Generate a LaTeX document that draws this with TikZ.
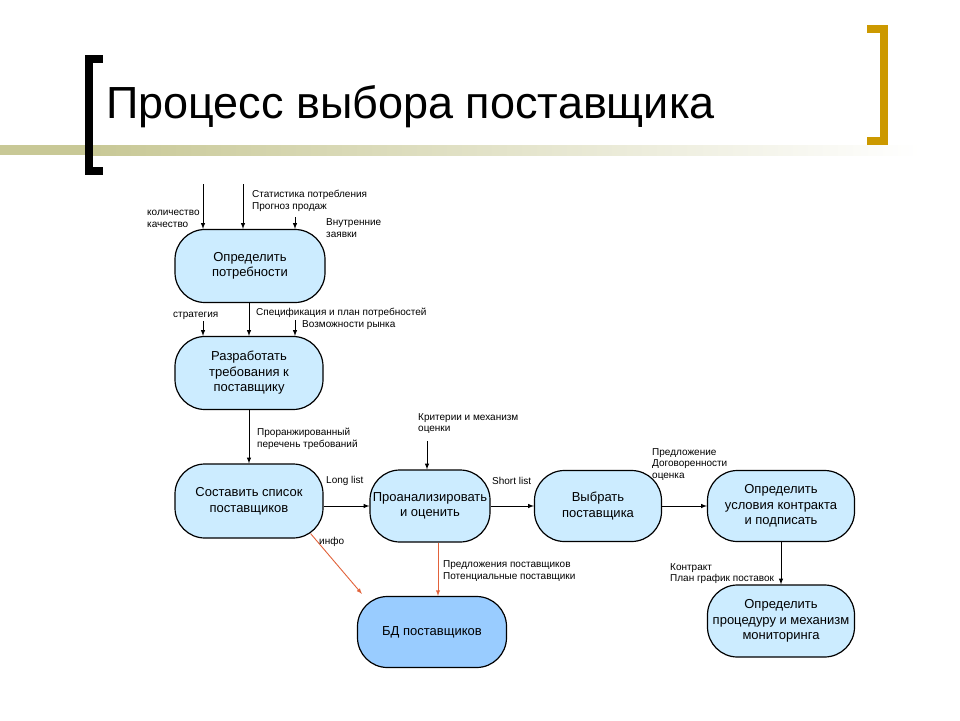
\documentclass[tikz,border=0pt]{standalone}
\usepackage{fontspec}
\setmainfont{Liberation Sans}
\usepackage{xcolor}
\usepackage{tikz}
\definecolor{stagefill}{RGB}{204,236,255}
\definecolor{storefill}{RGB}{153,204,255}
\definecolor{infored}{RGB}{226,98,58}
\definecolor{bracketgold}{RGB}{204,153,0}
\definecolor{barolive}{RGB}{200,200,150}
\tikzset{
  stage/.style    = {shape=rectangle, rounded corners=30pt,
                     draw, line width=1.2pt, align=center,
                     fill=stagefill, inner sep=1pt,
                     font=\fontsize{13}{15.5}\selectfont},
  store/.style    = {stage, fill=storefill},
  note/.style     = {anchor=west, align=left, inner sep=0pt,
                     font=\fontsize{10}{11.8}\selectfont},
  flow/.style     = {draw, line width=1pt, -latex},
  infoflow/.style = {flow, draw=infored, line width=0.9pt}
}

\begin{document}
\begin{tikzpicture}
  [
    x = 1pt,
    y = -1pt
  ]
  \fill [white] (0,0) rectangle (960,720);
  \useasboundingbox (0,0) rectangle (960,720);

  % title bar and brackets
  \fill [barolive] (0,145) rectangle (93,155);
  \shade [left color=barolive, right color=white] (93,145) rectangle (920,155);
  \fill [black] (85,55) rectangle (93,175);
  \fill [black] (85,55) rectangle (103,63);
  \fill [black] (85,167) rectangle (103,175);
  \fill [bracketgold] (880,25) rectangle (888,145);
  \fill [bracketgold] (867,25) rectangle (888,33);
  \fill [bracketgold] (867,137) rectangle (888,145);
  \node (title) [anchor=base west, inner sep=0pt, font=\fontsize{45}{50}\selectfont]
    at (106,118) {Процесс выбора поставщика};

  % stages
  \node (needs)   [stage, minimum width=150pt, minimum height=73pt] at (250,266) {Определить\\потребности};
  \node (reqs)    [stage, minimum width=148pt, minimum height=73pt] at (249,373) {Разработать\\требования к\\поставщику};
  \node (list)    [stage, minimum width=148pt, minimum height=74pt] at (249,501) {Составить список\\поставщиков};
  \node (analyse) [stage, minimum width=120pt, minimum height=72pt] at (430,506) {Проанализировать\\и оценить};
  \node (choose)  [stage, minimum width=127pt, minimum height=71pt] at (598,506) {Выбрать\\поставщика};
  \node (sign)    [stage, minimum width=147pt, minimum height=71pt] at (781,506) {Определить\\условия контракта\\и подписать};
  \node (monitor) [stage, minimum width=147pt, minimum height=72pt] at (781,621) {Определить\\процедуру и механизм\\мониторинга};
  \node (db)      [store, minimum width=149pt, minimum height=71pt] at (432,632) {БД поставщиков};

  % inputs
  \coordinate (qtyin)   at (203,184);
  \coordinate (statin)  at (243,184);
  \coordinate (askin)   at (295,217);
  \coordinate (stratin) at (203,321);
  \coordinate (mktin)   at (295,320);
  \coordinate (critin)  at (427,441);

  \draw [flow] (qtyin) -- (qtyin |- needs.north);
  \draw [flow] (statin) -- (statin |- needs.north);
  \draw [flow] (askin) -- (askin |- needs.north);
  \draw [flow] (stratin) -- (stratin |- reqs.north);
  \draw [flow] (mktin) -- (mktin |- reqs.north);
  \draw [flow] (critin) -- (critin |- analyse.north);

  % flows
  \draw [flow] (needs.south -| reqs) -- (reqs.north);
  \draw [flow] (reqs) -- (list);
  \draw [flow] (list.east |- analyse.west) -- (analyse.west);
  \draw [flow] (analyse) -- (choose);
  \draw [flow] (choose) -- (sign);
  \draw [flow] (sign) -- (monitor);
  \draw [infoflow] ([shift={(-13,-5)}]list.south east) -- ([shift={(5,-2)}]db.north west);
  \draw [infoflow] ([xshift=8pt]analyse.south) -- ([xshift=6pt]db.north);

  % labels
  \node (lblqty)    [note] at (147,218.5) {количество\\качество};
  \node (lblstat)   [note] at (252,201)   {Статистика потребления\\Прогноз продаж};
  \node (lblask)    [note] at (326,228.5) {Внутренние\\заявки};
  \node (lblstrat)  [note] at (173,316)   {стратегия};
  \node (lblspec)   [note] at (256,313)   {Спецификация и план потребностей};
  \node (lblmkt)    [note] at (302,325)   {Возможности рынка};
  \node (lblrank)   [note] at (257,438.5) {Проранжированный\\перечень требований};
  \node (lbllong)   [note] at (326,481)   {Long list};
  \node (lblcrit)   [note] at (418,423.5) {Критерии и механизм\\оценки};
  \node (lblshort)  [note] at (492,481)   {Short list};
  \node (lbloffer)  [note] at (652,464.5) {Предложение\\Договоренности\\оценка};
  \node (lblinfo)   [note] at (319,542)   {инфо};
  \node (lblprop)   [note] at (443,571)   {Предложения поставщиков\\Потенциальные поставщики};
  \node (lblcontr)  [note] at (670,573.5) {Контракт\\План график поставок};
\end{tikzpicture}
\end{document}
